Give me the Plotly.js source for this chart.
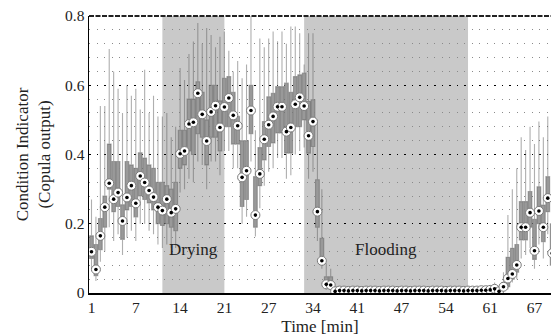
<!DOCTYPE html>
<html>
<head>
<meta charset="utf-8">
<script src="https://cdn.plot.ly/plotly-3.0.1.min.js"></script>
<style>html,body{margin:0;padding:0;background:#fff;}#chart{width:551px;height:336px;}</style>
</head>
<body>
<div id="chart"></div>
<script>
// Sample index (one box every 40 s); tick labels are minutes
const sampleIdx = [];
for (let i = 1; i <= 105; i++) sampleIdx.push(i);

const tickIdx = [1, 11, 21, 31, 41, 51, 61, 71, 81, 91, 101];
const tickLabels = ['1', '7', '14', '21', '27', '34', '41', '47', '54', '61', '67'];

// Medians (copula output)
const medianVals = [
  0.119, 0.068, 0.165, 0.248, 0.317, 0.271, 0.290, 0.208, 0.276, 0.310,
  0.259, 0.338, 0.319, 0.296, 0.277, 0.248, 0.238, 0.271, 0.232, 0.243,
  0.402, 0.410, 0.488, 0.493, 0.577, 0.516, 0.439, 0.523, 0.541, 0.478,
  0.537, 0.563, 0.513, 0.483, 0.334, 0.353, 0.527, 0.225, 0.344, 0.444,
  0.486, 0.510, 0.538, 0.538, 0.466, 0.478, 0.545, 0.565, 0.540, 0.454,
  0.495, 0.235, 0.093, 0.025, 0.023, 0.005, 0.007, 0.007, 0.006, 0.007,
  0.007, 0.006, 0.007, 0.007, 0.007, 0.006, 0.007, 0.007, 0.007, 0.006,
  0.007, 0.007, 0.006, 0.007, 0.007, 0.007, 0.006, 0.007, 0.007, 0.007,
  0.006, 0.007, 0.007, 0.007, 0.006, 0.007, 0.007, 0.007, 0.008, 0.008,
  0.009, 0.012, 0.005, 0.018, 0.042, 0.055, 0.081, 0.190, 0.190, 0.232,
  0.122, 0.237, 0.190, 0.274, 0.115
];
// Lower quartile
const q1Vals = [
  0.100, 0.050, 0.125, 0.190, 0.300, 0.235, 0.250, 0.155, 0.240, 0.250,
  0.220, 0.280, 0.270, 0.260, 0.240, 0.200, 0.195, 0.200, 0.190, 0.180,
  0.360, 0.370, 0.410, 0.400, 0.460, 0.450, 0.370, 0.450, 0.450, 0.410,
  0.480, 0.480, 0.430, 0.430, 0.250, 0.270, 0.460, 0.190, 0.310, 0.384,
  0.423, 0.433, 0.462, 0.462, 0.404, 0.404, 0.480, 0.480, 0.500, 0.404,
  0.423, 0.190, 0.086, 0.018, 0.018, 0.003, 0.004, 0.004, 0.004, 0.004,
  0.004, 0.004, 0.004, 0.004, 0.004, 0.004, 0.004, 0.004, 0.004, 0.004,
  0.004, 0.004, 0.004, 0.004, 0.004, 0.004, 0.004, 0.004, 0.004, 0.004,
  0.004, 0.004, 0.004, 0.004, 0.004, 0.004, 0.004, 0.004, 0.005, 0.005,
  0.005, 0.007, 0.003, 0.010, 0.018, 0.040, 0.060, 0.153, 0.153, 0.190,
  0.097, 0.200, 0.148, 0.235, 0.080
];
// Upper quartile
const q3Vals = [
  0.165, 0.140, 0.215, 0.280, 0.430, 0.380, 0.380, 0.255, 0.380, 0.370,
  0.360, 0.405, 0.390, 0.370, 0.360, 0.320, 0.320, 0.310, 0.300, 0.320,
  0.470, 0.470, 0.560, 0.560, 0.610, 0.580, 0.500, 0.600, 0.600, 0.555,
  0.620, 0.625, 0.580, 0.510, 0.440, 0.440, 0.600, 0.336, 0.420, 0.495,
  0.567, 0.577, 0.596, 0.596, 0.606, 0.580, 0.625, 0.630, 0.635, 0.553,
  0.558, 0.327, 0.158, 0.047, 0.047, 0.010, 0.011, 0.011, 0.010, 0.011,
  0.011, 0.010, 0.011, 0.011, 0.011, 0.010, 0.011, 0.011, 0.011, 0.010,
  0.011, 0.011, 0.010, 0.011, 0.011, 0.011, 0.010, 0.011, 0.011, 0.011,
  0.010, 0.011, 0.011, 0.011, 0.010, 0.011, 0.011, 0.011, 0.013, 0.013,
  0.015, 0.020, 0.010, 0.030, 0.103, 0.129, 0.140, 0.264, 0.264, 0.293,
  0.213, 0.307, 0.254, 0.336, 0.200
];
// Whisker ends
const lowVals = [
  0.070, 0.035, 0.090, 0.120, 0.190, 0.150, 0.170, 0.110, 0.160, 0.180,
  0.150, 0.200, 0.200, 0.180, 0.170, 0.140, 0.130, 0.140, 0.130, 0.130,
  0.290, 0.300, 0.330, 0.320, 0.380, 0.370, 0.300, 0.380, 0.380, 0.340,
  0.410, 0.410, 0.360, 0.360, 0.200, 0.220, 0.380, 0.163, 0.245, 0.310,
  0.350, 0.360, 0.390, 0.390, 0.330, 0.340, 0.400, 0.410, 0.420, 0.330,
  0.350, 0.150, 0.070, 0.010, 0.010, 0.001, 0.002, 0.002, 0.002, 0.002,
  0.002, 0.002, 0.002, 0.002, 0.002, 0.002, 0.002, 0.002, 0.002, 0.002,
  0.002, 0.002, 0.002, 0.002, 0.002, 0.002, 0.002, 0.002, 0.002, 0.002,
  0.002, 0.002, 0.002, 0.002, 0.002, 0.002, 0.002, 0.002, 0.003, 0.003,
  0.003, 0.004, 0.001, 0.005, 0.010, 0.030, 0.040, 0.100, 0.110, 0.130,
  0.070, 0.140, 0.100, 0.170, 0.050
];
const highVals = [
  0.270, 0.220, 0.540, 0.540, 0.705, 0.640, 0.590, 0.520, 0.600, 0.570,
  0.590, 0.530, 0.645, 0.520, 0.570, 0.510, 0.510, 0.520, 0.450, 0.480,
  0.650, 0.615, 0.690, 0.726, 0.780, 0.720, 0.765, 0.745, 0.710, 0.740,
  0.755, 0.700, 0.640, 0.670, 0.620, 0.660, 0.800, 0.470, 0.735, 0.710,
  0.735, 0.755, 0.727, 0.755, 0.720, 0.770, 0.770, 0.750, 0.660, 0.750,
  0.750, 0.500, 0.300, 0.086, 0.070, 0.014, 0.015, 0.015, 0.014, 0.015,
  0.015, 0.014, 0.015, 0.015, 0.015, 0.014, 0.015, 0.015, 0.015, 0.014,
  0.015, 0.015, 0.014, 0.015, 0.015, 0.015, 0.014, 0.015, 0.015, 0.015,
  0.014, 0.015, 0.015, 0.015, 0.014, 0.015, 0.015, 0.015, 0.018, 0.018,
  0.020, 0.030, 0.014, 0.060, 0.225, 0.300, 0.360, 0.450, 0.413, 0.480,
  0.430, 0.495, 0.450, 0.510, 0.450
];

// Operating-condition regions (in sample index)
const regionNames = ['Drying', 'Flooding'];
const regionStart = [17, 49];
const regionEnd = [31, 86];

const serif = "'Liberation Serif', 'DejaVu Serif', serif";

const traces = [
  {
    type: 'box',
    x: sampleIdx,
    q1: q1Vals,
    median: medianVals,
    q3: q3Vals,
    lowerfence: lowVals,
    upperfence: highVals,
    width: 0.85,
    whiskerwidth: 0,
    boxpoints: false,
    fillcolor: '#999999',
    line: {color: 'rgba(95,95,95,0.5)', width: 1.1},
    hoverinfo: 'skip',
    showlegend: false
  },
  {
    type: 'scatter',
    mode: 'markers',
    x: sampleIdx,
    y: medianVals,
    marker: {size: 9, color: '#ffffff', line: {color: '#7a7a7a', width: 1}},
    hoverinfo: 'skip',
    showlegend: false
  },
  {
    type: 'scatter',
    mode: 'markers',
    x: sampleIdx,
    y: medianVals,
    marker: {size: 3.6, color: '#000000', line: {width: 0}},
    hoverinfo: 'skip',
    showlegend: false
  }
];

const shapes = regionNames.map((n, k) => ({
  type: 'rect', xref: 'x', yref: 'paper',
  x0: regionStart[k], x1: regionEnd[k], y0: 0, y1: 1,
  fillcolor: '#c9c9c9', line: {width: 0}, layer: 'below'
}));
shapes.push({
  type: 'line', xref: 'paper', yref: 'paper', x0: 0, x1: 1, y0: 1, y1: 1,
  line: {color: '#222', width: 2, dash: '5px,1.5px'}
});

const annotations = regionNames.map((n, k) => ({
  text: n, xref: 'x', yref: 'y',
  x: (regionStart[k] + regionEnd[k]) / 2, y: 0.125,
  showarrow: false, font: {family: serif, size: 17, color: '#222'}
}));

const layout = {
  width: 551, height: 336,
  margin: {l: 89, r: 0, t: 16, b: 43, pad: 0},
  paper_bgcolor: '#ffffff', plot_bgcolor: '#ffffff',
  font: {family: serif, size: 15.5, color: '#222'},
  xaxis: {
    range: [0.436, 104.73],
    tickmode: 'array', tickvals: tickIdx, ticktext: tickLabels,
    showgrid: false, zeroline: false,
    showline: true, linecolor: '#000', linewidth: 1.5,
    ticks: '', ticklen: 0,
    tickfont: {family: serif, size: 15.5, color: '#222'},
    title: {text: 'Time [min]', font: {family: serif, size: 17, color: '#222'}, standoff: 6},
    automargin: false
  },
  yaxis: {
    range: [0, 0.8],
    tickmode: 'array', tickvals: [0, 0.2, 0.4, 0.6, 0.8], ticktext: ['0', '0.2', '0.4', '0.6', '0.8'],
    showgrid: true, gridcolor: '#000', gridwidth: 1.4, griddash: '1.5px,6px',
    minor: {tick0: 0, dtick: 0.04, showgrid: true, gridcolor: '#8a8a8a', gridwidth: 1, griddash: '1px,6.5px', ticks: ''},
    zeroline: false,
    showline: true, linecolor: '#000', linewidth: 1.5,
    ticks: '', ticklen: 0,
    tickfont: {family: serif, size: 15.5, color: '#222'},
    title: {text: 'Condition Indicator<br>(Copula output)', font: {family: serif, size: 17, color: '#222'}, standoff: 10},
    automargin: false
  },
  shapes: shapes,
  annotations: annotations,
  showlegend: false
};

Plotly.newPlot('chart', traces, layout, {staticPlot: true, displayModeBar: false});
</script>
</body>
</html>
